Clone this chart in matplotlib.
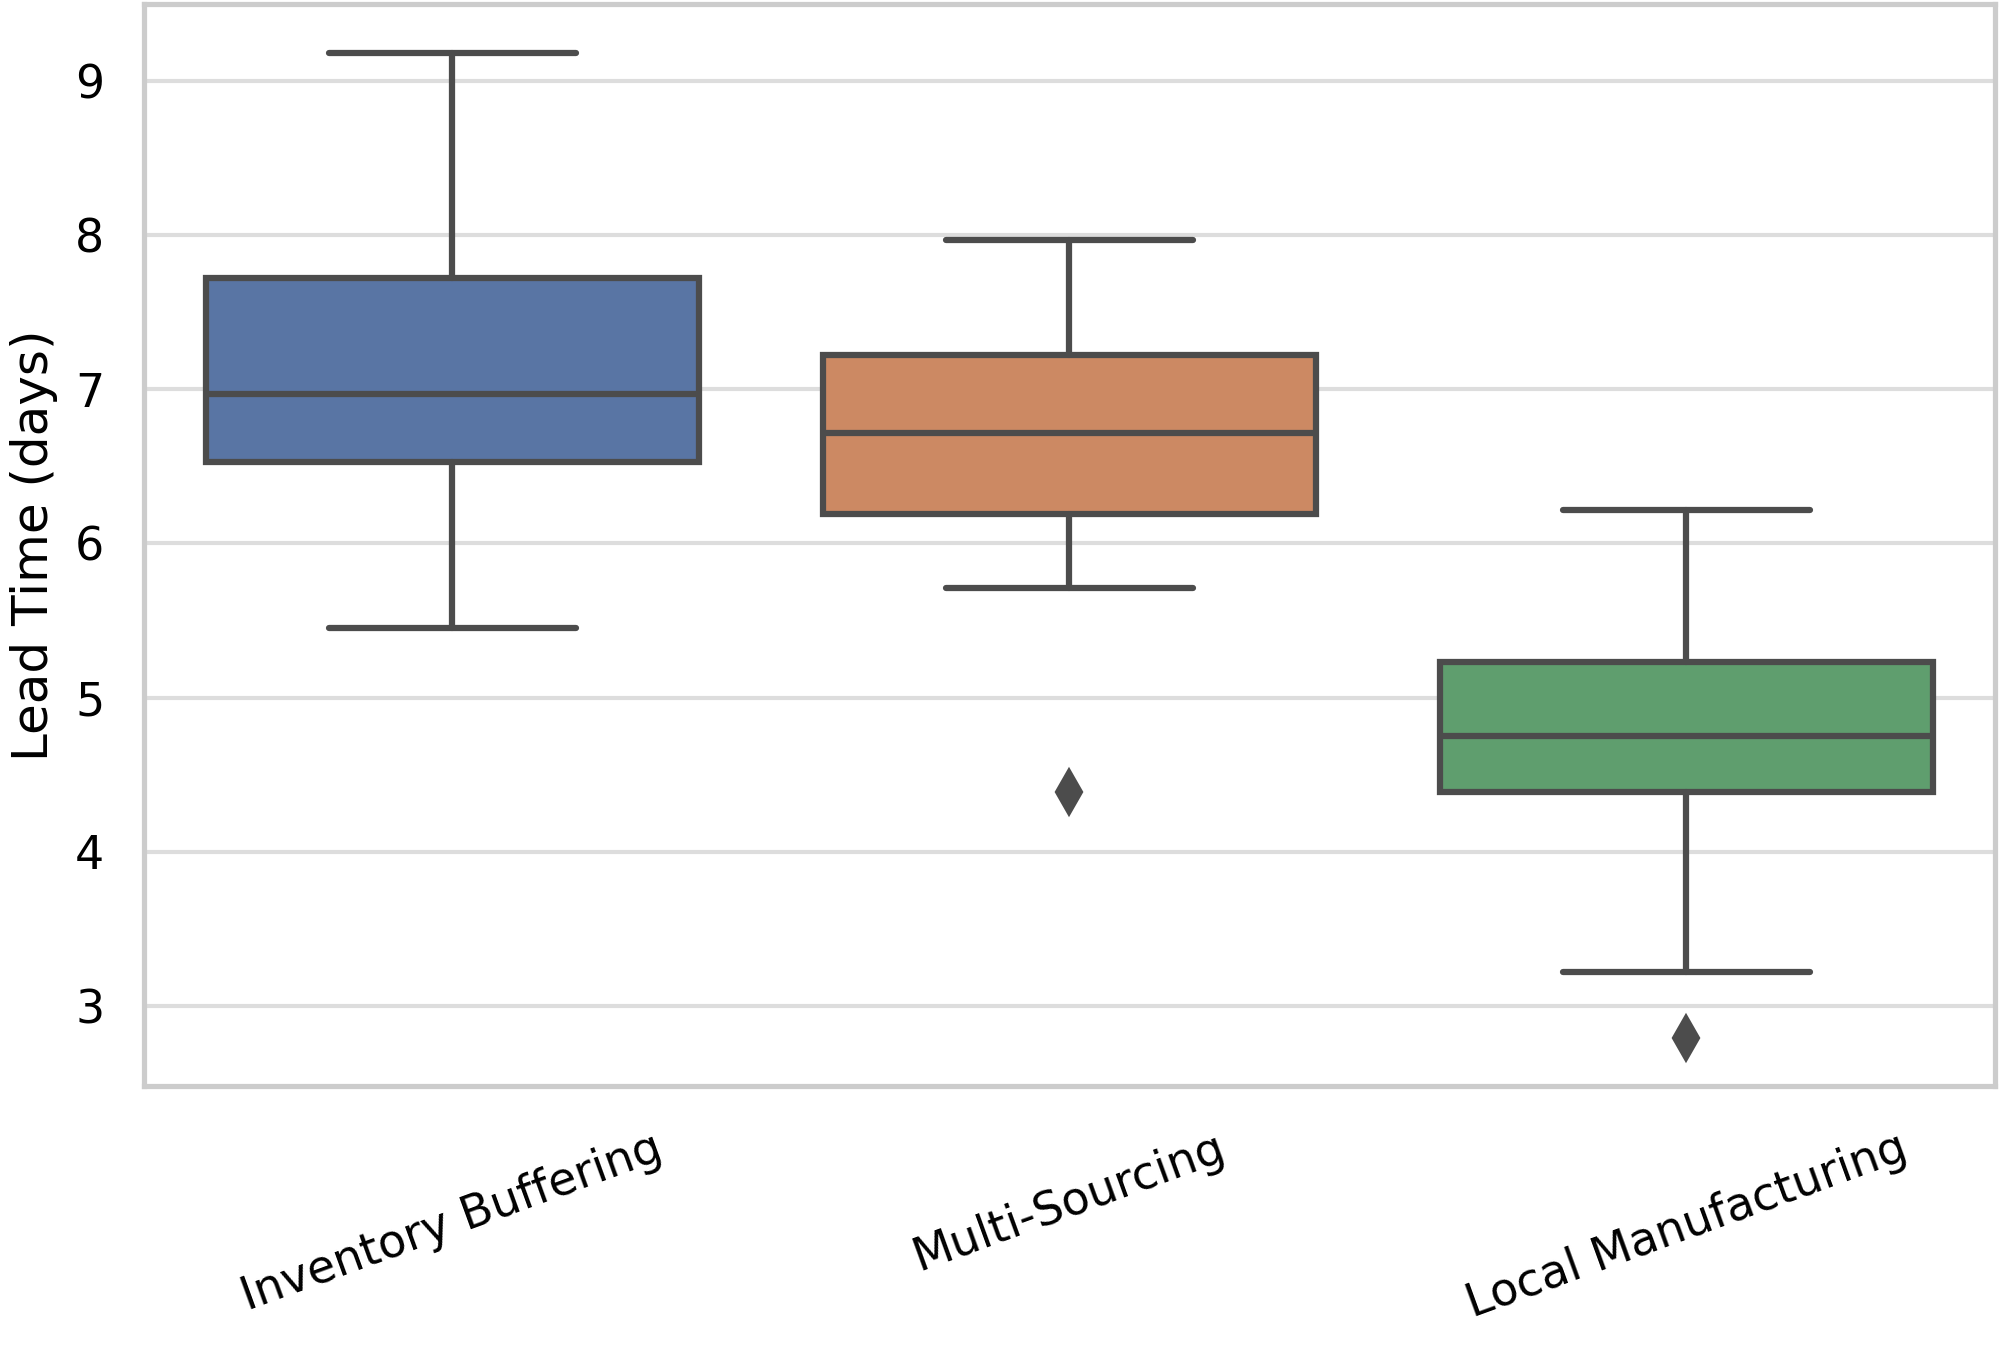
import numpy as np
import matplotlib
matplotlib.use("Agg")
import matplotlib.pyplot as plt
import seaborn as sns

# values
strategies = ["Inventory Buffering", "Multi-Sourcing", "Local Manufacturing"]
whis_low = [5.45, 5.71, 3.22]
q1 = [6.53, 6.19, 4.39]
medians = [6.97, 6.72, 4.75]
q3 = [7.72, 7.22, 5.23]
whis_high = [9.18, 7.97, 6.22]
outliers = [[], [4.39], [2.79]]

colors = ["#5975a4", "#cc8963", "#5f9e6e"]
line_gray = "#4c4c4c"

sns.set_theme(style="whitegrid")
plt.rcParams["font.family"] = ["DejaVu Sans"]
plt.rcParams["text.color"] = "black"
plt.rcParams["axes.labelcolor"] = "black"
plt.rcParams["xtick.color"] = "black"
plt.rcParams["ytick.color"] = "black"

fig = plt.figure(figsize=(1999 / 300, 1366 / 300), dpi=300)
ax = fig.add_axes([0.072, 0.205, 0.926, 0.792])

stats = []
for i, name in enumerate(strategies):
    stats.append({"label": name, "whislo": whis_low[i], "q1": q1[i], "med": medians[i],
                  "q3": q3[i], "whishi": whis_high[i], "fliers": outliers[i]})

lw = 1.5
bp = ax.bxp(stats, positions=range(len(strategies)), widths=0.8, patch_artist=True,
            showfliers=True, capwidths=0.4,
            boxprops=dict(edgecolor=line_gray, linewidth=lw),
            medianprops=dict(color=line_gray, linewidth=lw),
            whiskerprops=dict(color=line_gray, linewidth=lw, solid_capstyle="round"),
            capprops=dict(color=line_gray, linewidth=lw, solid_capstyle="round"),
            flierprops=dict(marker="d", markerfacecolor=line_gray, markeredgecolor=line_gray,
                            markersize=7, linestyle="none"))
for patch, c in zip(bp["boxes"], colors):
    patch.set_facecolor(c)
    patch.set_zorder(2)

ax.set_xlim(-0.5, 2.5)
ax.set_ylim(2.48, 9.50)
ax.set_yticks([3, 4, 5, 6, 7, 8, 9])
ax.set_xticks(range(len(strategies)))
ax.set_xticklabels(strategies, rotation=20, ha="center", fontsize=11)
ax.tick_params(axis="y", labelsize=11)
ax.set_ylabel("Lead Time (days)", fontsize=12)
ax.grid(axis="x", visible=False)
ax.grid(axis="y", color="#dddddd", linewidth=1)
ax.set_axisbelow(True)
for s in ax.spines.values():
    s.set_color("#cccccc")
    s.set_linewidth(1.25)

fig.savefig("out.png", dpi=300)
